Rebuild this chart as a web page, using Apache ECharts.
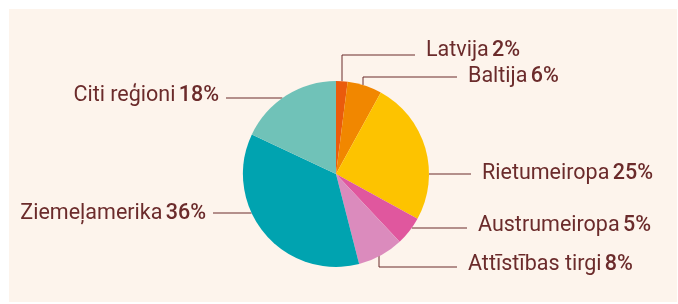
<!DOCTYPE html>
<html>
<head>
<meta charset="utf-8">
<script src="https://cdn.jsdelivr.net/npm/echarts@6/dist/echarts.min.js"></script>
<style>
body { margin: 0; background: #ffffff; }
#wrap { position: relative; width: 678px; height: 304px; }
#panel { position: absolute; left: 9px; top: 9px; width: 668px; height: 293px; background: #fdf4ec; }
#chart { position: absolute; left: 0; top: 0; width: 678px; height: 304px; }
</style>
</head>
<body>
<div id="wrap">
    <div id="panel"></div>
    <div id="chart"></div>
</div>
<script>
// regions and their shares (%)
var regions = ["Latvija", "Baltija", "Rietumeiropa", "Austrumeiropa", "Attīstības tirgi", "Ziemeļamerika", "Citi reģioni"];
var shares = [2, 6, 25, 5, 8, 36, 18];
var colors = ["#ea5b0c", "#f18700", "#fdc300", "#e0579e", "#db8bbd", "#00a3b0", "#70c2b8"];

var CX = 336, CY = 174, R = 93;
var textColor = "#6b2b2b";

// where each label's guide line goes: "v" = leaves the pie vertically at x, "h" = horizontally at y
var guides = [
    { dir: "v", at: 342, elbow: 55, end: 415, side: "right", dy: -4 },
    { dir: "v", at: 363, elbow: 77, end: 457, side: "right", dy: 0 },
    { dir: "h", at: 174, end: 471, side: "right", dy: 0 },
    { dir: "h", at: 228, end: 467, side: "right", dy: -2 },
    { dir: "v", at: 379, elbow: 267, end: 457, side: "right", dy: -2, inset: 7 },
    { dir: "h", at: 213, end: 213, side: "left", dy: 1 },
    { dir: "h", at: 98, end: 226, side: "left", dy: -2 }
];

function onCircle(g) {
    if (g.dir === "v") {
        var h = Math.sqrt(R * R - (g.at - CX) * (g.at - CX));
        var y = g.elbow < CY ? CY - h : CY + h - (g.inset || 0);
        return [g.at, y];
    }
    var w = Math.sqrt(R * R - (g.at - CY) * (g.at - CY));
    return [g.side === "right" ? CX + w : CX - w, g.at];
}

var chart = echarts.init(document.getElementById("chart"));
chart.setOption({
    animation: false,
    series: [
        {
            type: "pie",
            center: [CX, CY],
            radius: R,
            startAngle: 90,
            clockwise: true,
            data: regions.map(function (name, i) {
                return { name: name, value: shares[i], itemStyle: { color: colors[i] } };
            }),
            label: {
                show: true,
                position: "outside",
                formatter: "{n|{b}} {p|{c}%}",
                rich: {
                    n: { fontFamily: "Roboto", fontSize: 21.5, color: textColor },
                    p: { fontFamily: "Roboto", fontSize: 21.5, fontWeight: 500, color: textColor }
                }
            },
            labelLine: {
                show: true,
                lineStyle: { color: textColor, width: 1 }
            },
            labelLayout: function (params) {
                var g = guides[params.dataIndex];
                var s = onCircle(g);
                var pts;
                if (g.dir === "v") {
                    pts = [s, [g.at, g.elbow], [g.end, g.elbow]];
                } else {
                    pts = [s, s, [g.end, g.at]];
                }
                var lineY = g.dir === "v" ? g.elbow : g.at;
                return {
                    x: g.side === "right" ? g.end + 11 : g.end - 7,
                    y: lineY + g.dy,
                    align: g.side === "right" ? "left" : "right",
                    verticalAlign: "middle",
                    labelLinePoints: pts
                };
            }
        }
    ]
});
</script>
</body>
</html>
